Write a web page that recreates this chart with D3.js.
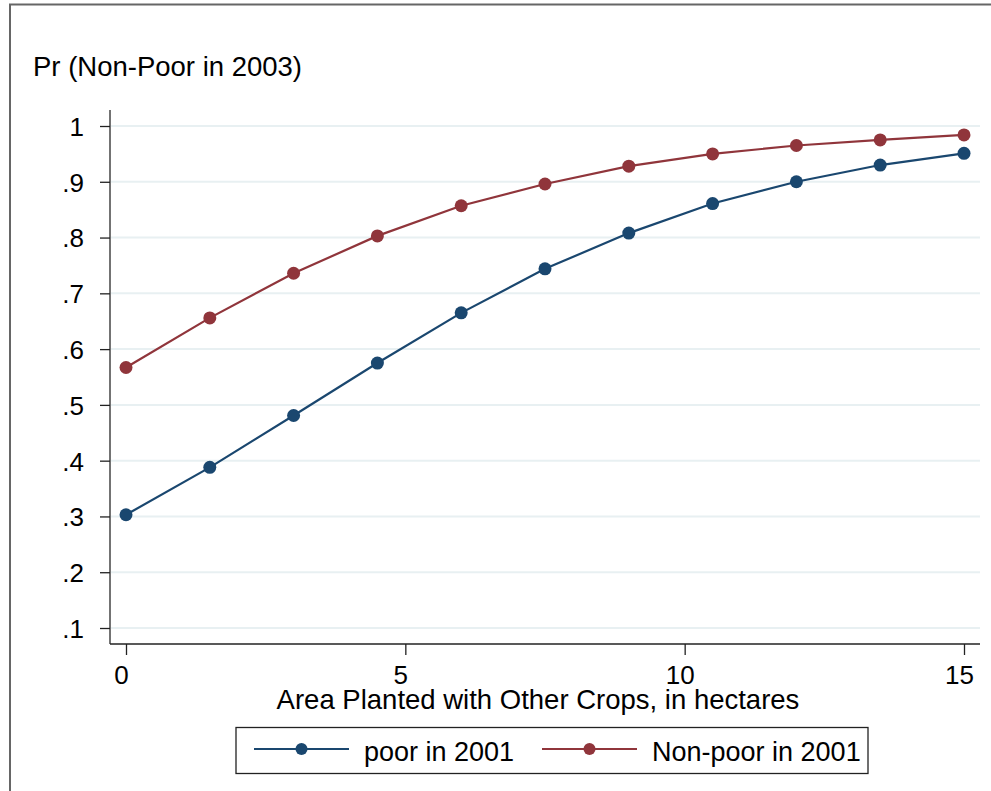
<!DOCTYPE html>
<html>
<head>
<meta charset="utf-8">
<script src="https://cdn.jsdelivr.net/npm/d3@7"></script>
<style>
  body { margin: 0; background: #fff; }
  svg { display: block; font-family: 'Liberation Sans', Arial, Helvetica, sans-serif; }
</style>
</head>
<body>
<div id="chart"></div>
<script>
const area = [0, 1.5, 3, 4.5, 6, 7.5, 9, 10.5, 12, 13.5, 15];
const poor2001 = [0.303, 0.388, 0.481, 0.575, 0.665, 0.744, 0.808, 0.861, 0.900, 0.930, 0.951];
const nonPoor2001 = [0.567, 0.656, 0.736, 0.803, 0.857, 0.896, 0.928, 0.950, 0.965, 0.975, 0.984];
const xTicks = [0, 5, 10, 15];
const yTicks = [0.1, 0.2, 0.3, 0.4, 0.5, 0.6, 0.7, 0.8, 0.9, 1];
const seriesNames = ['poor in 2001', 'Non-poor in 2001'];
const seriesColors = ['#1a476f', '#90353b'];

const canvasWidth = 991;
const canvasHeight = 791;

const svg = d3.select('#chart')
  .append('svg')
  .attr('width', canvasWidth)
  .attr('height', canvasHeight);

// outer frame (only top and left edges show)
svg.append('rect')
  .attr('x', 10)
  .attr('y', 4.5)
  .attr('width', 1200)
  .attr('height', 1200)
  .attr('fill', 'none')
  .attr('stroke', '#666')
  .attr('stroke-width', 2);

// plot region
const plot = { left: 110, right: 980, top: 110, bottom: 644 };

const scaleX = d3.scaleLinear()
  .domain([0, 15])
  .range([126, 964]);
const scaleY = d3.scaleLinear()
  .domain([0.1, 1])
  .range([628, 126]);

// gridlines
svg.append('g')
  .selectAll('line')
  .data(yTicks)
  .enter()
  .append('line')
    .attr('x1', plot.left + 1)
    .attr('x2', plot.right)
    .attr('y1', d => scaleY(d))
    .attr('y2', d => scaleY(d))
    .attr('stroke', '#e8f0f2')
    .attr('stroke-width', 2);

// y axis
const axisY = d3.axisLeft(scaleY)
  .tickValues(yTicks)
  .tickSize(10)
  .tickPadding(16)
  .tickFormat(d => (d === 1 ? '1' : d3.format('.1f')(d).replace(/^0/, '')));

const gy = svg.append('g')
  .attr('transform', `translate(${plot.left}, 0)`)
  .call(axisY);
gy.select('.domain')
  .attr('d', `M0,${plot.top}V${plot.bottom}`)
  .attr('stroke', '#444')
  .attr('stroke-width', 1.5);
gy.selectAll('.tick line').attr('stroke', '#222').attr('stroke-width', 1.3);
gy.selectAll('.tick text')
  .attr('font-size', 26)
  .attr('font-family', null)
  .attr('fill', '#000')
  .attr('dy', '0.36em');

// x axis
const axisX = d3.axisBottom(scaleX)
  .tickValues(xTicks)
  .tickSize(11)
  .tickPadding(10);

const gx = svg.append('g')
  .attr('transform', `translate(0, ${plot.bottom})`)
  .call(axisX);
gx.select('.domain')
  .attr('d', `M${plot.left},0H${plot.right}`)
  .attr('stroke', '#222')
  .attr('stroke-width', 1.5);
gx.selectAll('.tick line').attr('stroke', '#222').attr('stroke-width', 1.3);
gx.selectAll('.tick text')
  .attr('font-size', 26)
  .attr('font-family', null)
  .attr('fill', '#000')
  .attr('x', -5)
  .attr('dy', '0.72em');

// axis titles
svg.append('text')
  .attr('x', 33)
  .attr('y', 76)
  .attr('font-size', 27.5)
  .text('Pr (Non-Poor in 2003)');

svg.append('text')
  .attr('x', 538)
  .attr('y', 709)
  .attr('text-anchor', 'middle')
  .attr('font-size', 27.5)
  .text('Area Planted with Other Crops, in hectares');

// series
const series = [poor2001, nonPoor2001];
const line = d3.line()
  .x((d, i) => scaleX(area[i]))
  .y(d => scaleY(d));

series.forEach((values, k) => {
  svg.append('path')
    .datum(values)
    .attr('fill', 'none')
    .attr('stroke', seriesColors[k])
    .attr('stroke-width', 2.2)
    .attr('d', line);

  svg.append('g')
    .selectAll('circle')
    .data(values)
    .enter()
    .append('circle')
      .attr('cx', (d, i) => scaleX(area[i]))
      .attr('cy', d => scaleY(d))
      .attr('r', 6.5)
      .attr('fill', seriesColors[k]);
});

// legend
const legend = svg.append('g');
legend.append('rect')
  .attr('x', 236)
  .attr('y', 727.5)
  .attr('width', 632)
  .attr('height', 46)
  .attr('fill', '#fff')
  .attr('stroke', '#222')
  .attr('stroke-width', 1.3);

const legendItems = [
  { x1: 254, x2: 349, text: 364 },
  { x1: 542, x2: 637, text: 652 },
];

legendItems.forEach((item, k) => {
  legend.append('line')
    .attr('x1', item.x1)
    .attr('x2', item.x2)
    .attr('y1', 749)
    .attr('y2', 749)
    .attr('stroke', seriesColors[k])
    .attr('stroke-width', 2);
  legend.append('circle')
    .attr('cx', (item.x1 + item.x2) / 2)
    .attr('cy', 749)
    .attr('r', 6)
    .attr('fill', seriesColors[k]);
  legend.append('text')
    .attr('x', item.text)
    .attr('y', 761)
    .attr('font-size', 27)
    .text(seriesNames[k]);
});
</script>
</body>
</html>
